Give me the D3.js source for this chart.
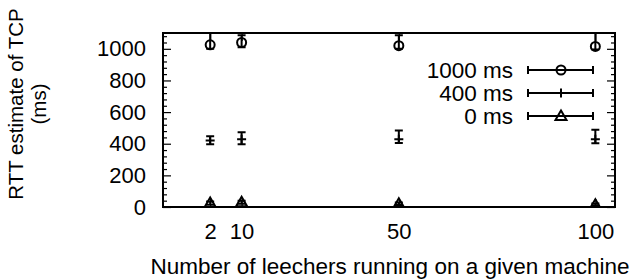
<!DOCTYPE html>
<html>
<head>
<meta charset="utf-8">
<script src="https://cdn.jsdelivr.net/npm/d3@7"></script>
<style>
  body { margin: 0; background: #fff; }
  text { font-family: "Liberation Sans", Arial, sans-serif; fill: #000; }
</style>
</head>
<body>
<div id="plot"></div>
<script>
// data
var leechers = [2, 10, 50, 100];
var xTicks = [2, 10, 50, 100];
var yTicks = [0, 200, 400, 600, 800, 1000];
var seriesNames = ["1000 ms", "400 ms", "0 ms"];

var rtt1000 = [1025, 1040, 1020, 1015];
var rtt1000Lo = [1000, 1010, 1000, 995];
var rtt1000Hi = [1100, 1085, 1085, 1100];

var rtt400 = [421, 428, 428, 428];
var rtt400Lo = [396, 396, 404, 403];
var rtt400Hi = [447, 473, 484, 489];

var rtt0 = [25, 30, 20, 15];
var rtt0Lo = [15, 20, 12, 8];
var rtt0Hi = [35, 40, 28, 22];

var margin = {top: 33, right: 21, bottom: 73, left: 163};
var width = 636 - margin.left - margin.right,
  height = 280 - margin.top - margin.bottom;

var xScale = d3.scaleLinear().domain([-10, 105]).range([0, width]);
var yScale = d3.scaleLinear().domain([0, 1100]).range([height, 0]);

var svg = d3.select("#plot").append("svg")
  .attr("width", 636)
  .attr("height", 280);

var g = svg.append("g")
  .attr("transform", "translate(" + margin.left + "," + margin.top + ")");

svg.append("defs").append("clipPath").attr("id", "clip")
  .append("rect").attr("width", width).attr("height", height);

// axes, ticks pointing inward like gnuplot
var xAxis = d3.axisBottom(xScale).tickValues(xTicks).tickSize(-8).tickPadding(16);
var xTop = d3.axisTop(xScale).tickValues(xTicks).tickSize(-8).tickFormat("");
var yAxis = d3.axisLeft(yScale).tickValues(yTicks).tickSize(-8).tickPadding(17)
  .tickFormat(d3.format("d"));
var yRight = d3.axisRight(yScale).tickValues(yTicks).tickSize(-8).tickFormat("");

var minor = d3.range(0, 1101, 40).filter(function (v) { return v % 200 !== 0; });

g.append("g").attr("transform", "translate(0," + height + ")").call(xAxis);
g.append("g").call(xTop);
g.append("g").call(yAxis);
g.append("g").attr("transform", "translate(" + width + ",0)").call(yRight);
g.append("g").call(d3.axisLeft(yScale).tickValues(minor).tickSize(-4).tickFormat(""));
g.append("g").attr("transform", "translate(" + width + ",0)")
  .call(d3.axisRight(yScale).tickValues(minor).tickSize(-4).tickFormat(""));

g.selectAll(".domain").remove();
g.selectAll(".tick line").attr("stroke", "#000").attr("stroke-width", 1.2);
g.selectAll(".tick text").style("font-size", "22px").attr("fill", "#000");

g.append("rect")
  .attr("width", width).attr("height", height)
  .attr("fill", "none").attr("stroke", "#000").attr("stroke-width", 2);

// axis labels
svg.append("text")
  .attr("transform", "translate(23,104) rotate(-90)")
  .attr("text-anchor", "middle")
  .style("font-size", "20.5px")
  .text("RTT estimate of TCP");
svg.append("text")
  .attr("transform", "translate(46,104) rotate(-90)")
  .attr("text-anchor", "middle")
  .style("font-size", "20.5px")
  .text("(ms)");
svg.append("text")
  .attr("x", 390).attr("y", 274)
  .attr("text-anchor", "middle")
  .style("font-size", "22.5px")
  .text("Number of leechers running on a given machine");

var series = [
  {name: seriesNames[0], y: rtt1000, lo: rtt1000Lo, hi: rtt1000Hi, mark: "circle"},
  {name: seriesNames[1], y: rtt400, lo: rtt400Lo, hi: rtt400Hi, mark: "plus"},
  {name: seriesNames[2], y: rtt0, lo: rtt0Lo, hi: rtt0Hi, mark: "triangle"}
];

function drawMark(sel, mark, x, y) {
  if (mark === "circle") {
    sel.append("circle").attr("cx", x).attr("cy", y).attr("r", 4.5)
      .attr("fill", "none").attr("stroke", "#000").attr("stroke-width", 2);
  } else if (mark === "plus") {
    sel.append("path")
      .attr("d", "M" + (x - 4.5) + "," + y + "H" + (x + 4.5) + "M" + x + "," + (y - 4.5) + "V" + (y + 4.5))
      .attr("stroke", "#000").attr("stroke-width", 2);
  } else {
    sel.append("path")
      .attr("d", "M" + x + "," + (y - 5.5) + "L" + (x + 5.5) + "," + (y + 4) + "L" + (x - 5.5) + "," + (y + 4) + "Z")
      .attr("fill", "none").attr("stroke", "#000").attr("stroke-width", 2);
  }
}

var plot = g.append("g").attr("clip-path", "url(#clip)");

series.forEach(function (s) {
  leechers.forEach(function (n, i) {
    var x = xScale(n);
    var y0 = yScale(s.lo[i]), y1 = yScale(s.hi[i]);
    plot.append("path")
      .attr("d", "M" + x + "," + y0 + "V" + y1 +
        "M" + (x - 4) + "," + y0 + "H" + (x + 4) +
        "M" + (x - 4) + "," + y1 + "H" + (x + 4))
      .attr("stroke", "#000").attr("stroke-width", 2).attr("fill", "none");
    drawMark(plot, s.mark, x, yScale(s.y[i]));
  });
});

// legend
var legend = svg.append("g");
series.forEach(function (s, i) {
  var ly = 70 + i * 23;
  legend.append("text")
    .attr("x", 513).attr("y", ly + 8)
    .attr("text-anchor", "end")
    .style("font-size", "22.5px")
    .text(s.name);
  legend.append("path")
    .attr("d", "M528," + ly + "H593M528," + (ly - 4) + "V" + (ly + 4) + "M593," + (ly - 4) + "V" + (ly + 4))
    .attr("stroke", "#000").attr("stroke-width", 2);
  drawMark(legend, s.mark, 561, ly);
});
</script>
</body>
</html>
